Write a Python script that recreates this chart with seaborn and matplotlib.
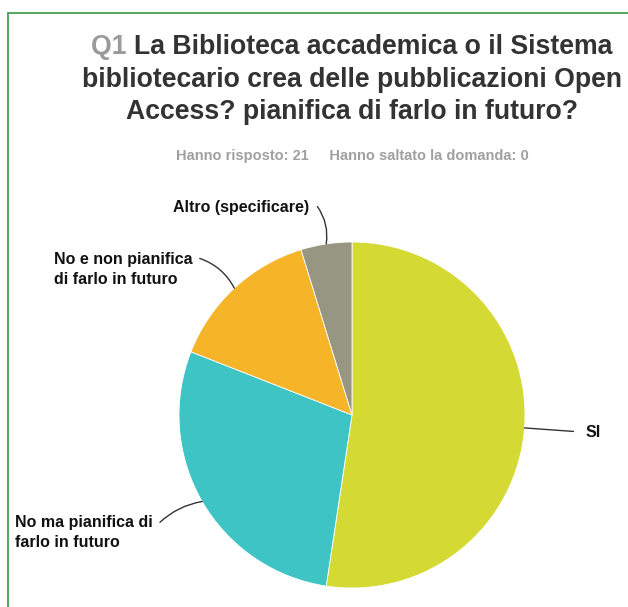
import numpy as np
import matplotlib
matplotlib.use("Agg")
import matplotlib.pyplot as plt
import seaborn as sns
from matplotlib.lines import Line2D

# Risposte Q1 (21 rispondenti)
labels = ["SI", "No ma pianifica di\nfarlo in futuro", "No e non pianifica\ndi farlo in futuro", "Altro (specificare)"]
counts = [11, 6, 3, 1]
colors = ["#D4DA33", "#3FC4C6", "#F6B428", "#969683"]

# label placement (data coords, pie radius = 1)
text_pos = [(1.35, -0.10), (-1.95, -0.68), (-1.72, 0.84), (-0.25, 1.20)]
text_ha = ["left", "left", "left", "right"]
line_start = [(1.28, -0.095), (-1.11, -0.62), (-0.88, 0.905), (-0.20, 1.205)]
line_rad = [0.0, -0.15, -0.2, -0.2]

sns.set_theme(style="white")
plt.rcParams["font.family"] = ["Liberation Sans", "DejaVu Sans"]

fig = plt.figure(figsize=(6.28, 6.07), dpi=100)
W, H = 628, 607
ax = fig.add_axes([(352 - 173) / W, (H - 415 - 173) / H, 346 / W, 346 / H])

wedges, _ = ax.pie(counts, colors=colors, startangle=90, counterclock=False,
                   radius=1, wedgeprops=dict(linewidth=0.6, edgecolor="white"))
ax.set_xlim(-1, 1)
ax.set_ylim(-1, 1)
ax.set_aspect("equal")
ax.axis("off")

for w, lab, tp, ha, ls, rad in zip(wedges, labels, text_pos, text_ha, line_start, line_rad):
    mid = np.deg2rad((w.theta1 + w.theta2) / 2)
    ax.annotate("", xy=(np.cos(mid), np.sin(mid)), xytext=ls,
                arrowprops=dict(arrowstyle="-", color="#333333", lw=1,
                                shrinkA=0, shrinkB=0,
                                connectionstyle=f"arc3,rad={rad}"),
                annotation_clip=False)
    ax.text(tp[0], tp[1], lab, ha=ha, va="center", fontsize=11.5,
            fontweight="bold", color="#111111", linespacing=1.45, clip_on=False)

# title
title_lines = ["La Biblioteca accademica o il Sistema",
               "bibliotecario crea delle pubblicazioni Open",
               "Access? pianifica di farlo in futuro?"]
title_y = [47, 80, 112]
tfont = dict(fontsize=19.2, fontweight="bold", va="center")
fig.canvas.draw()
r = fig.canvas.get_renderer()
q = fig.text(0, 0, "Q1 ", color="#9A9A9A", **tfont)
rest = fig.text(0, 0, title_lines[0], color="#333333", **tfont)
wq = q.get_window_extent(r).width
wr = rest.get_window_extent(r).width
x0 = 352 - (wq + wr) / 2
q.set_position((x0 / W, 1 - title_y[0] / H))
rest.set_position(((x0 + wq) / W, 1 - title_y[0] / H))
for line, y in zip(title_lines[1:], title_y[1:]):
    fig.text(352 / W, 1 - y / H, line, ha="center", color="#333333", **tfont)

fig.text(352 / W, 1 - 156 / H, "Hanno risposto: 21     Hanno saltato la domanda: 0",
         ha="center", va="center", fontsize=10.5, fontweight="bold", color="#A0A0A0")

# green frame
fig.add_artist(Line2D([7.5 / W, 7.5 / W], [0, 1 - 13 / H], color="#3A9A45", lw=1.2,
                      transform=fig.transFigure))
fig.add_artist(Line2D([7.5 / W, 1], [1 - 13 / H, 1 - 13 / H], color="#3A9A45", lw=1.2,
                      transform=fig.transFigure))

fig.savefig("out.png", dpi=100, facecolor="white")
